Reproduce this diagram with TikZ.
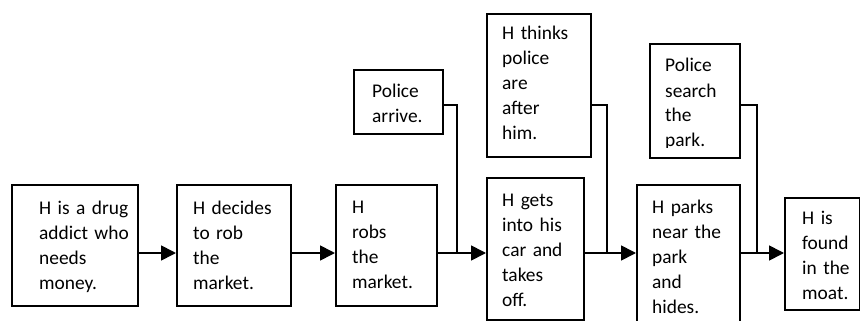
\documentclass[tikz,border=0pt]{standalone}
\usepackage{fontspec}
\setmainfont{Carlito}
\usepackage{tikz}
\usetikzlibrary{calc,arrows.meta}

\begin{document}
\begin{tikzpicture}[x=1pt, y=-1pt,
    frame/.style={draw, line width=1.7pt, anchor=north west, inner sep=0pt},
    txt/.style={anchor=base west, inner sep=0pt, text width=110pt, align=left,
        font=\fontsize{19.4}{25}\selectfont},
    flow/.style={line width=1.7pt, -{Triangle[length=15pt,width=15pt]}},
    feed/.style={line width=1.7pt}]
            \useasboundingbox (0,0) rectangle (860,321);
            \coordinate (main) at (0,253);
            \coordinate (side) at (0,105);
            \coordinate (j1) at (457,253);
            \coordinate (j2) at (607,253);
            \coordinate (j3) at (757,253);

            \node[frame, minimum width=126pt, minimum height=121pt] (drug) at (11,184) {};
            \node[frame, minimum width=114pt, minimum height=121pt] (decide) at (176,184) {};
            \node[frame, minimum width=101pt, minimum height=121pt] (rob) at (335,184) {};
            \node[frame, minimum width=89pt, minimum height=64pt] (arrive) at (353,69) {};
            \node[frame, minimum width=104pt, minimum height=143pt] (thinks) at (486,13) {};
            \node[frame, minimum width=97pt, minimum height=142pt] (gets) at (486,177) {};
            \node[frame, minimum width=90pt, minimum height=114pt] (search) at (649,43) {};
            \node[frame, minimum width=103pt, minimum height=170pt] (parks) at (636,184) {};
            \node[frame, minimum width=75pt, minimum height=112pt] (found) at (784,197) {};

            \node[txt] (drugtext) at ([shift={(28,30)}]drug.north west) {H is a drug\\addict who\\needs\\money.};
            \node[txt] (decidetext) at ([shift={(17,30)}]decide.north west) {H decides\\to rob\\the\\market.};
            \node[txt] (robtext) at ([shift={(17,29)}]rob.north west) {H\\robs\\the\\market.};
            \node[txt] (arrivetext) at ([shift={(19,28)}]arrive.north west) {Police\\arrive.};
            \node[txt] (thinkstext) at ([shift={(16,27)}]thinks.north west) {H thinks\\police\\are\\after\\him.};
            \node[txt] (getstext) at ([shift={(16,29)}]gets.north west) {H gets\\into his\\car and\\takes\\off.};
            \begin{scope}
                \clip (649,43) rectangle (739,147);
                \node[txt] (searchtext) at ([shift={(16,29)}]search.north west) {Police\\search\\the\\park.};
            \end{scope}
            \node[txt] (parkstext) at ([shift={(16,29)}]parks.north west) {H parks\\near the\\park\\and\\hides.};
            \node[txt] (foundtext) at ([shift={(18,27)}]found.north west) {H is\\found\\in the\\moat.};

            \draw[flow] (drug.east |- main) -- (decide.west |- main);
            \draw[flow] (decide.east |- main) -- (rob.west |- main);
            \draw[flow] (rob.east |- main) -- (gets.west |- main);
            \draw[flow] (gets.east |- main) -- (parks.west |- main);
            \draw[flow] (parks.east |- main) -- (found.west |- main);

            \draw[feed] (arrive.east |- side) -| (j1);
            \draw[feed] (thinks.east |- side) -| (j2);
            \draw[feed] (search.east |- side) -| (j3);
        \end{tikzpicture}
\end{document}
